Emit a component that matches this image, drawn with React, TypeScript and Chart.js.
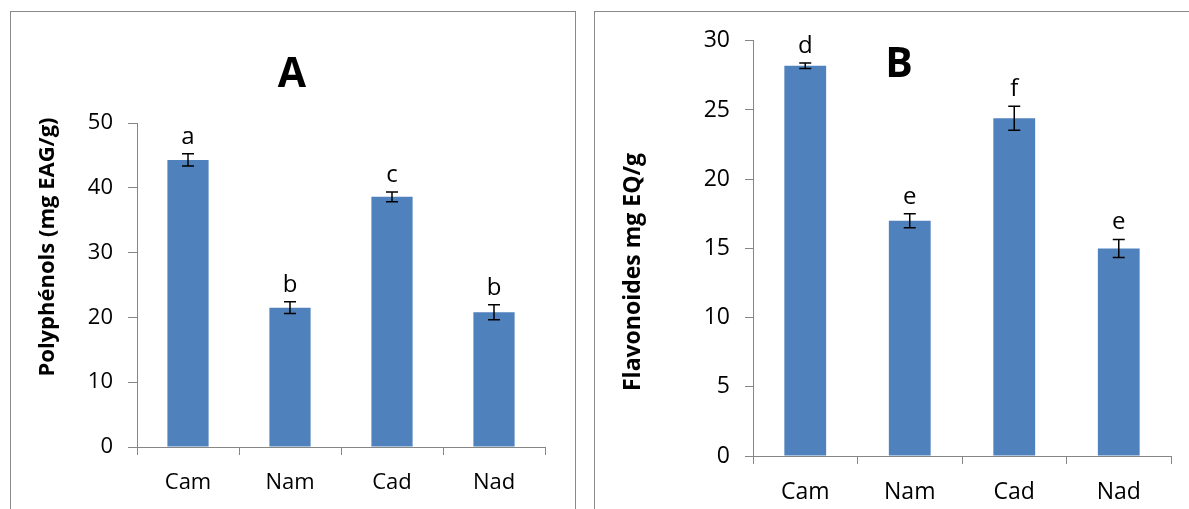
import React, { useEffect, useRef } from 'react';
import { Chart, registerables } from 'chart.js';

Chart.register(...registerables);

const categories = ['Cam', 'Nam', 'Cad', 'Nad'];
const polyphenolValues = [44.3, 21.5, 38.6, 20.8];
const polyphenolErrors = [0.95, 0.9, 0.77, 1.15];
const polyphenolLetters = ['a', 'b', 'c', 'b'];
const flavonoidValues = [28.2, 17.0, 24.4, 15.0];
const flavonoidErrors = [0.2, 0.5, 0.87, 0.65];
const flavonoidLetters = ['d', 'e', 'f', 'e'];
const polyphenolAxis = { max: 50, step: 10 };
const flavonoidAxis = { max: 30, step: 5 };

const FONT = "'Open Sans', sans-serif";
const BAR = '#4F81BD';
const AXIS = '#868686';

const annotPlugin = {
  id: 'annot',
  afterDatasetsDraw(chart: any, _args: any, opts: any) {
    const ctx = chart.ctx;
    const xs = chart.scales.x;
    const ys = chart.scales.y;
    const vals = chart.data.datasets[0].data as number[];
    ctx.save();
    ctx.strokeStyle = '#000';
    ctx.lineWidth = 1.5;
    ctx.fillStyle = '#000';
    vals.forEach((v, i) => {
      const e = opts.errors[i];
      const px = xs.getPixelForValue(i);
      const yt = ys.getPixelForValue(v + e);
      const yb = ys.getPixelForValue(v - e);
      const cap = 6;
      ctx.beginPath();
      ctx.moveTo(px, yt);
      ctx.lineTo(px, yb);
      ctx.moveTo(px - cap, yt);
      ctx.lineTo(px + cap, yt);
      ctx.moveTo(px - cap, yb);
      ctx.lineTo(px + cap, yb);
      ctx.stroke();
      ctx.font = `${opts.letterSize}px ${FONT}`;
      ctx.textAlign = 'center';
      ctx.textBaseline = 'alphabetic';
      ctx.fillText(opts.letters[i], px, yt - opts.letterGap);
    });
    ctx.font = `bold ${opts.titleSize}px ${FONT}`;
    ctx.textAlign = 'center';
    ctx.textBaseline = 'alphabetic';
    ctx.fillText(opts.title, opts.titleX, opts.titleY);
    ctx.translate(opts.axisTitleX, opts.axisTitleY);
    ctx.rotate(-Math.PI / 2);
    ctx.textBaseline = 'middle';
    ctx.font = `bold ${opts.axisTitleSize}px ${FONT}`;
    ctx.fillText(opts.axisTitle, 0, 0);
    ctx.restore();
  },
};

type PanelProps = {
  values: number[];
  errors: number[];
  letters: string[];
  axis: { max: number; step: number };
  width: number;
  height: number;
  left: number;
  top: number;
  yWidth: number;
  xHeight: number;
  padTop: number;
  padRight: number;
  yTickLen: number;
  xTickLen: number;
  tickSize: number;
  title: string;
  titleX: number;
  titleY: number;
  axisTitle: string;
  axisTitleX: number;
  axisTitleY: number;
  axisTitleSize: number;
  barPct: number;
};

function Panel(p: PanelProps) {
  const ref = useRef<HTMLCanvasElement>(null);
  useEffect(() => {
    if (!ref.current) return;
    const chart = new Chart(ref.current, {
      type: 'bar',
      data: {
        labels: categories,
        datasets: [
          {
            data: p.values,
            backgroundColor: BAR,
            borderWidth: 0,
            categoryPercentage: 1,
            barPercentage: p.barPct,
          },
        ],
      },
      plugins: [annotPlugin],
      options: {
        animation: false,
        responsive: false,
        devicePixelRatio: 1,
        layout: { padding: { left: 0, top: p.padTop, right: p.padRight, bottom: 0 } },
        plugins: {
          legend: { display: false },
          tooltip: { enabled: false },
          annot: {
            errors: p.errors,
            letters: p.letters,
            letterSize: 24,
            letterGap: 10,
            title: p.title,
            titleX: p.titleX,
            titleY: p.titleY,
            titleSize: 41,
            axisTitle: p.axisTitle,
            axisTitleX: p.axisTitleX,
            axisTitleY: p.axisTitleY,
            axisTitleSize: p.axisTitleSize,
          },
        } as any,
        scales: {
          x: {
            grid: {
              offset: true,
              drawOnChartArea: false,
              drawTicks: true,
              tickLength: p.xTickLen,
              color: AXIS,
            },
            border: { display: true, color: AXIS, width: 1 },
            ticks: { color: '#000', font: { family: FONT, size: p.tickSize }, padding: 15 },
            afterFit: (s: any) => {
              s.height = p.xHeight;
            },
          },
          y: {
            min: 0,
            max: p.axis.max,
            grid: {
              drawOnChartArea: false,
              drawTicks: true,
              tickLength: p.yTickLen,
              color: AXIS,
            },
            border: { display: true, color: AXIS, width: 1 },
            ticks: {
              stepSize: p.axis.step,
              color: '#000',
              font: { family: FONT, size: p.tickSize },
              padding: 15,
            },
            afterFit: (s: any) => {
              s.width = p.yWidth;
            },
          },
        },
      } as any,
    });
    return () => chart.destroy();
  }, []);
  return (
    <canvas
      ref={ref}
      width={p.width}
      height={p.height}
      style={{ position: 'absolute', left: p.left, top: p.top, width: p.width, height: p.height }}
    />
  );
}

export default function App() {
  return (
    <div
      style={{
        position: 'fixed',
        left: 0,
        top: 0,
        width: 1189,
        height: 509,
        background: '#fff',
        overflow: 'hidden',
      }}
    >
      <div
        style={{
          position: 'absolute',
          left: 10,
          top: 11,
          width: 564,
          height: 540,
          border: '1px solid #8a8a8a',
        }}
      />
      <div
        style={{
          position: 'absolute',
          left: 594,
          top: 11,
          width: 700,
          height: 540,
          border: '1px solid #8a8a8a',
        }}
      />
      <Panel
        values={polyphenolValues}
        errors={polyphenolErrors}
        letters={polyphenolLetters}
        axis={polyphenolAxis}
        width={563}
        height={497}
        left={11}
        top={12}
        yWidth={126}
        xHeight={62}
        padTop={111}
        padRight={29}
        yTickLen={9}
        xTickLen={8}
        tickSize={22}
        title="A"
        titleX={281}
        titleY={75}
        axisTitle="Polyphénols (mg EAG/g)"
        axisTitleX={37}
        axisTitleY={235}
        axisTitleSize={22}
        barPct={0.404}
      />
      <Panel
        values={flavonoidValues}
        errors={flavonoidErrors}
        letters={flavonoidLetters}
        axis={flavonoidAxis}
        width={594}
        height={497}
        left={595}
        top={12}
        yWidth={158}
        xHeight={53}
        padTop={24}
        padRight={18}
        yTickLen={8}
        xTickLen={8}
        tickSize={23}
        title="B"
        titleX={304}
        titleY={65}
        axisTitle="Flavonoides mg EQ/g"
        axisTitleX={38}
        axisTitleY={260}
        axisTitleSize={23}
        barPct={0.4}
      />
    </div>
  );
}
